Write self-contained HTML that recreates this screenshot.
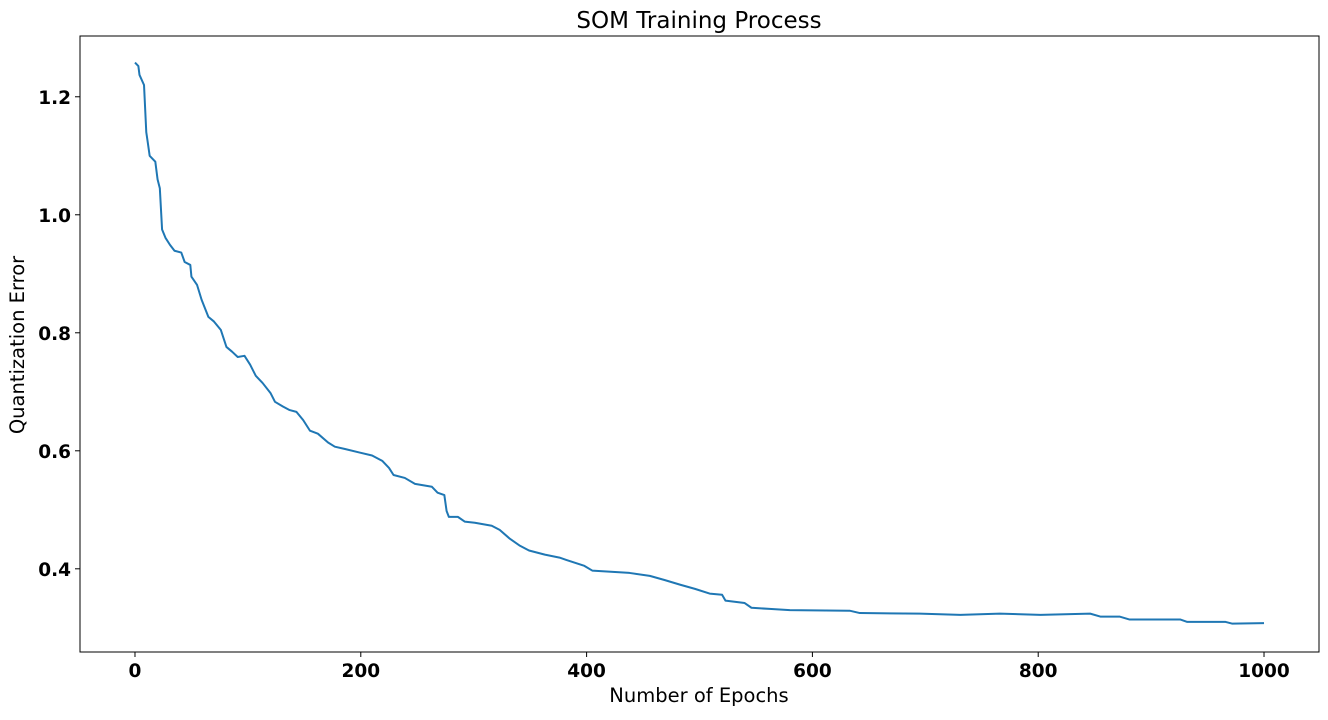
<!DOCTYPE html>
<html><head><meta charset="utf-8"><style>
body{margin:0;background:#fff;font-family:"Liberation Sans","DejaVu Sans",sans-serif;}
svg text{font-family:"DejaVu Sans","Liberation Sans",sans-serif;}
</style></head><body>
<svg id="chart" width="1328" height="715" xmlns="http://www.w3.org/2000/svg">
<rect width="1328" height="715" fill="#fff"/>
<text x="699" y="28" font-size="23" text-anchor="middle">SOM Training Process</text>
<g id="plot"></g>
<rect x="80" y="36" width="1239" height="616" fill="none" stroke="#000" stroke-width="1"/>
<text x="699" y="702" font-size="19.5" text-anchor="middle">Number of Epochs</text>
<text transform="translate(24,345) rotate(-90)" font-size="19.5" text-anchor="middle">Quantization Error</text>
</svg>
<script>
const epochs=[0,3,4,8,10,11,13,18,20,22,24,27,31,35,41,44,49,50,55,59,65,70,76,81,86,91,97,102,107,113,120,124,131,137,143,149,155,162,171,177,186,199,210,219,225,229,239,248,263,268,274,276,278,286,292,301,316,323,332,341,349,363,376,382,398,405,438,456,469,483,496,509,520,523,540,546,562,580,633,642,695,731,766,802,846,855,872,881,926,932,966,972,1000];
const errors=[1.258,1.252,1.237,1.22,1.14,1.127,1.10,1.09,1.06,1.045,0.975,0.961,0.949,0.939,0.936,0.92,0.915,0.895,0.881,0.856,0.827,0.819,0.805,0.776,0.768,0.759,0.761,0.746,0.727,0.715,0.698,0.683,0.675,0.669,0.666,0.652,0.634,0.629,0.614,0.607,0.603,0.597,0.592,0.583,0.571,0.559,0.554,0.544,0.539,0.529,0.525,0.498,0.488,0.488,0.48,0.478,0.473,0.466,0.451,0.439,0.431,0.424,0.419,0.415,0.405,0.397,0.393,0.388,0.381,0.373,0.366,0.358,0.356,0.346,0.342,0.334,0.332,0.33,0.329,0.325,0.324,0.322,0.324,0.322,0.324,0.319,0.319,0.314,0.314,0.31,0.31,0.307,0.308];
const xTicks=[0,200,400,600,800,1000];
const yTicks=[0.4,0.6,0.8,1.0,1.2];
const yTickLabels=["0.4","0.6","0.8","1.0","1.2"];
const NS="http://www.w3.org/2000/svg";
const X0=80,X1=1319,Y0=36,Y1=652,xmin=-48.7,xmax=1048.7,ymin=0.259,ymax=1.303;
function sx(v){return X0+(v-xmin)/(xmax-xmin)*(X1-X0);}
function sy(v){return Y1-(v-ymin)/(ymax-ymin)*(Y1-Y0);}
const g=document.getElementById('plot');
function mk(t,a){const e=document.createElementNS(NS,t);for(const k in a)e.setAttribute(k,a[k]);g.appendChild(e);return e;}
xTicks.forEach(t=>{
  const l=mk('line',{x1:sx(t),x2:sx(t),y1:Y1,y2:Y1+5,stroke:'#000'});
  
  
  const s=mk('text',{x:sx(t),y:Y1+25,'font-size':18.5,'font-weight':'bold','text-anchor':'middle'});
  s.textContent=t;
  
  
});
yTicks.forEach((t,i)=>{
  const l=mk('line',{x1:X0-5,x2:X0,y1:sy(t),y2:sy(t),stroke:'#000'});
  
  
  const s=mk('text',{x:X0-9,y:sy(t)+7,'font-size':18.5,'font-weight':'bold','text-anchor':'end'});
  s.textContent=yTickLabels[i];
  
  
});
const p=mk('polyline',{points:epochs.map((e,i)=>sx(e)+','+sy(errors[i])).join(' '),fill:'none',stroke:'#1f77b4','stroke-width':2,'stroke-linejoin':'round'});


</script>
</body></html>
